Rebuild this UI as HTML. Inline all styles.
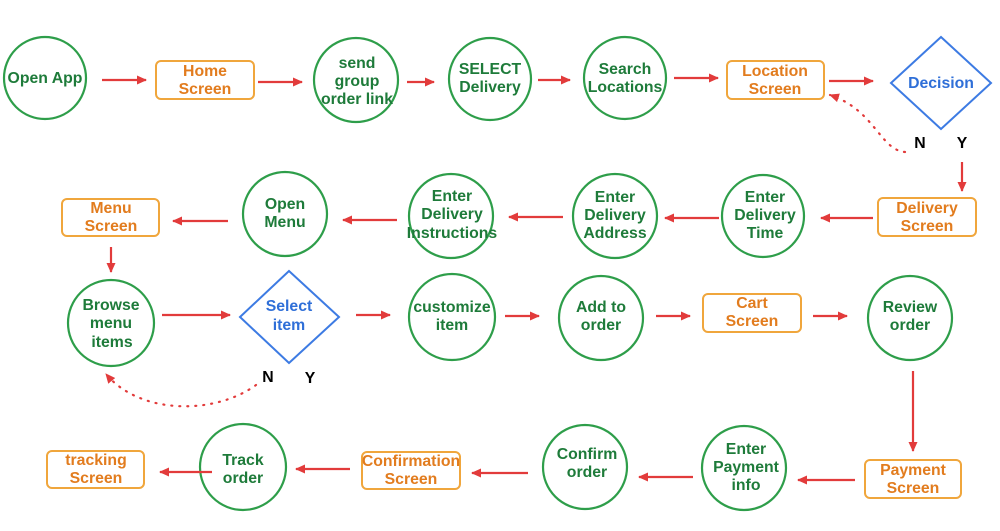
<!DOCTYPE html>
<html><head><style>html,body{margin:0;padding:0;background:#fff}svg{display:block}
text{font-family:"Liberation Sans",sans-serif;font-weight:bold;font-size:15.8px;text-anchor:middle}
.g{fill:#1e7b3a}.o{fill:#e27c1e}.b{fill:#2f6fd8}.k{fill:#000}
circle{fill:#fff;stroke:#2e9e4a;stroke-width:2.2}
rect{fill:#fff;stroke:#f0a63c;stroke-width:2;rx:5}
.d{fill:#fff;stroke:#3d7be3;stroke-width:2}
.a{stroke:#e23b3b;stroke-width:2.2;fill:none;marker-end:url(#m)}
.dt{stroke:#e23b3b;stroke-width:2.2;fill:none;stroke-dasharray:1 7;stroke-linecap:round;marker-end:url(#m)}
</style></head><body>
<svg width="1000" height="531" viewBox="0 0 1000 531" xmlns="http://www.w3.org/2000/svg">
<defs><marker id="m" markerWidth="10" markerHeight="10" refX="9" refY="5" orient="auto" markerUnits="userSpaceOnUse"><path d="M0,0.5 L10,5 L0,9.5 z" fill="#e23b3b"/></marker></defs>

<!-- Row 1 -->
<circle cx="45" cy="78" r="41"/><text class="g" x="45" y="83">Open App</text>
<rect x="156" y="61" width="98" height="38"/><text class="o" x="205" y="76">Home</text><text class="o" x="205" y="94">Screen</text>
<circle cx="356" cy="80" r="42"/><text class="g" x="357" y="68">send</text><text class="g" x="357" y="86">group</text><text class="g" x="357" y="104">order link</text>
<circle cx="490" cy="79" r="41"/><text class="g" x="490" y="74">SELECT</text><text class="g" x="490" y="92">Delivery</text>
<circle cx="625" cy="78" r="41"/><text class="g" x="625" y="74">Search</text><text class="g" x="625" y="92">Locations</text>
<rect x="727" y="61" width="97" height="38"/><text class="o" x="775" y="76">Location</text><text class="o" x="775" y="94">Screen</text>
<polygon class="d" points="941,37 991,83 941,129 891,83"/><text class="b" x="941" y="88">Decision</text>
<text class="k" x="920" y="148">N</text><text class="k" x="962" y="148">Y</text>

<line class="a" x1="102" y1="80" x2="146" y2="80"/>
<line class="a" x1="258" y1="82" x2="302" y2="82"/>
<line class="a" x1="407" y1="82" x2="434" y2="82"/>
<line class="a" x1="538" y1="80" x2="570" y2="80"/>
<line class="a" x1="674" y1="78" x2="718" y2="78"/>
<line class="a" x1="829" y1="81" x2="873" y2="81"/>
<path class="dt" d="M905,152 C880,150 875,110 830,95"/>
<line class="a" x1="962" y1="162" x2="962" y2="191"/>

<!-- Row 2 -->
<rect x="878" y="198" width="98" height="38"/><text class="o" x="927" y="213">Delivery</text><text class="o" x="927" y="231">Screen</text>
<circle cx="763" cy="216" r="41"/><text class="g" x="765" y="202">Enter</text><text class="g" x="765" y="220">Delivery</text><text class="g" x="765" y="238">Time</text>
<circle cx="615" cy="216" r="42"/><text class="g" x="615" y="202">Enter</text><text class="g" x="615" y="220">Delivery</text><text class="g" x="615" y="238">Address</text>
<circle cx="451" cy="216" r="42"/><text class="g" x="452" y="201">Enter</text><text class="g" x="452" y="219">Delivery</text><text class="g" x="452" y="238">Instructions</text>
<circle cx="285" cy="214" r="42"/><text class="g" x="285" y="209">Open</text><text class="g" x="285" y="227">Menu</text>
<rect x="62" y="199" width="97" height="37"/><text class="o" x="111" y="213">Menu</text><text class="o" x="111" y="231">Screen</text>

<line class="a" x1="873" y1="218" x2="821" y2="218"/>
<line class="a" x1="719" y1="218" x2="665" y2="218"/>
<line class="a" x1="563" y1="217" x2="509" y2="217"/>
<line class="a" x1="397" y1="220" x2="343" y2="220"/>
<line class="a" x1="228" y1="221" x2="173" y2="221"/>
<line class="a" x1="111" y1="247" x2="111" y2="272"/>

<!-- Row 3 -->
<circle cx="111" cy="323" r="43"/><text class="g" x="111" y="310">Browse</text><text class="g" x="111" y="328">menu</text><text class="g" x="112" y="347">items</text>
<polygon class="d" points="289,271 339,317 289,363 240,317"/><text class="b" x="289" y="311">Select</text><text class="b" x="289" y="330">item</text>
<text class="k" x="268" y="382">N</text><text class="k" x="310" y="383">Y</text>
<circle cx="452" cy="317" r="43"/><text class="g" x="452" y="312">customize</text><text class="g" x="452" y="330">item</text>
<circle cx="601" cy="318" r="42"/><text class="g" x="601" y="312">Add to</text><text class="g" x="601" y="330">order</text>
<rect x="703" y="294" width="98" height="38"/><text class="o" x="752" y="308">Cart</text><text class="o" x="752" y="326">Screen</text>
<circle cx="910" cy="318" r="42"/><text class="g" x="910" y="312">Review</text><text class="g" x="910" y="330">order</text>

<line class="a" x1="162" y1="315" x2="230" y2="315"/>
<line class="a" x1="356" y1="315" x2="390" y2="315"/>
<line class="a" x1="505" y1="316" x2="539" y2="316"/>
<line class="a" x1="656" y1="316" x2="690" y2="316"/>
<line class="a" x1="813" y1="316" x2="847" y2="316"/>
<path class="dt" d="M256,385 C215,415 140,415 106,374"/>
<line class="a" x1="913" y1="371" x2="913" y2="451"/>

<!-- Row 4 -->
<rect x="865" y="460" width="96" height="38"/><text class="o" x="913" y="475">Payment</text><text class="o" x="913" y="493">Screen</text>
<circle cx="744" cy="468" r="42"/><text class="g" x="746" y="454">Enter</text><text class="g" x="746" y="472">Payment</text><text class="g" x="746" y="490">info</text>
<circle cx="585" cy="467" r="42"/><text class="g" x="587" y="459">Confirm</text><text class="g" x="587" y="477">order</text>
<rect x="362" y="452" width="98" height="37"/><text class="o" x="411" y="466">Confirmation</text><text class="o" x="411" y="484">Screen</text>
<circle cx="243" cy="467" r="43"/><text class="g" x="243" y="465">Track</text><text class="g" x="243" y="483">order</text>
<rect x="47" y="451" width="97" height="37"/><text class="o" x="96" y="465">tracking</text><text class="o" x="96" y="483">Screen</text>

<line class="a" x1="855" y1="480" x2="798" y2="480"/>
<line class="a" x1="693" y1="477" x2="639" y2="477"/>
<line class="a" x1="528" y1="473" x2="472" y2="473"/>
<line class="a" x1="350" y1="469" x2="296" y2="469"/>
<line class="a" x1="212" y1="472" x2="160" y2="472"/>
</svg>
</body></html>
